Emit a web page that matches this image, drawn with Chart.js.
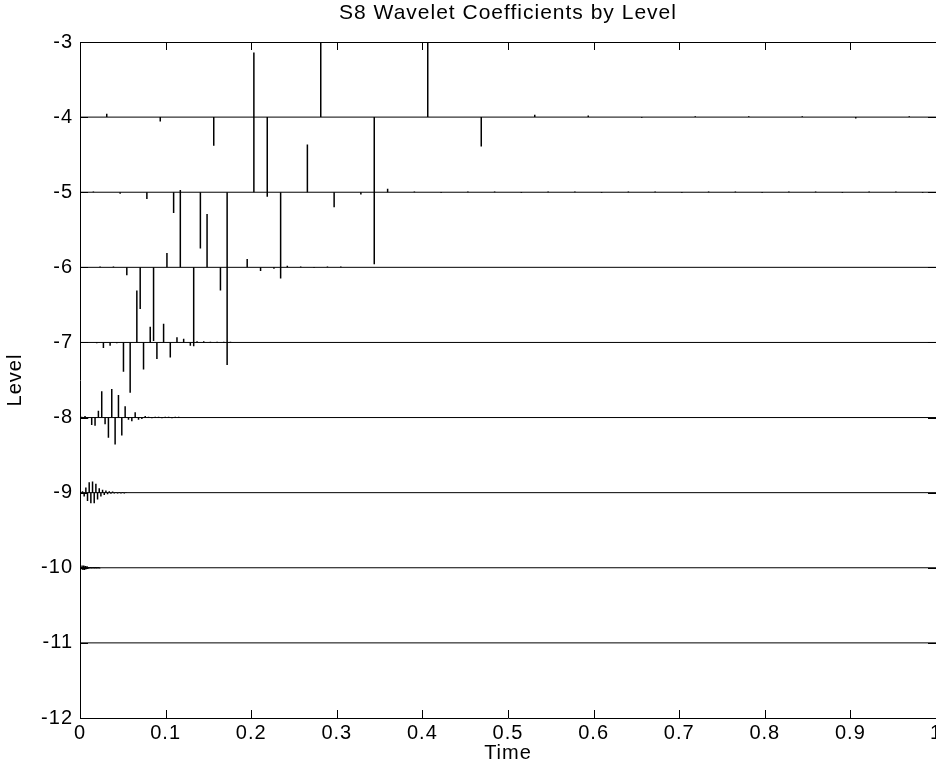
<!DOCTYPE html>
<html lang="en">
<head>
  <meta charset="UTF-8" />
  <title>S8 Wavelet Coefficients by Level</title>
  <script src="https://cdn.jsdelivr.net/npm/chart.js"></script>
  <style>
    html, body {
      margin: 0;
      padding: 0;
      background: #fff;
      overflow: hidden;
    }
    /* a bit wider than the window so the right edge and the "1" get cut, like the original */
    .chart-box {
      width: 960px;
      height: 775px;
    }
  </style>
</head>
<body>

  <div class="chart-box">
    <canvas id="waveChart"></canvas>
  </div>

  <script>
    // levels drawn, baseline of level j sits at y = -j
    const levels = [4, 5, 6, 7, 8, 9, 10, 11];
    const yTicks = [-3, -4, -5, -6, -7, -8, -9, -10, -11, -12];
    const xTicks = [0, 0.1, 0.2, 0.3, 0.4, 0.5, 0.6, 0.7, 0.8, 0.9, 1];

    // scaled coefficients, k-th value sits at t = (k - 0.5) / 2^j
    // (values not listed are ~0 and not drawn)
    const coef4 = [0.045, -0.06, -0.38, -1.06, 1.3, -1.96, 1.3, -0.39,
                   0.03, 0.02, -0.01, 0.01, 0.01, 0.01, -0.02, 0.01];
    const coef5 = [0.01, -0.02, -0.09, -0.275, -0.75, -2.3, 1.86, -1.15,
                   0.635, -0.2, -0.03, 0.045, 0.01, -0.01, 0.01, 0.01,
                   -0.01, 0.01, 0.01, -0.01, 0.01, 0.01, -0.01, 0.01,
                   0.01, -0.01, 0.01, 0.01, -0.01, 0.01, 0.01, -0.01];
    const coef6 = [0.0, 0.01, 0.01, -0.107, -0.555, -0.98, 0.19, 1.03,
                   -1.05, 0.71, -0.31, 0.0, 0.11, -0.05, -0.02, 0.02,
                   0.01, -0.01, 0.01, 0.01];
    const coef7 = [0.005, 0.0, -0.01, -0.075, -0.045, -0.01, -0.39, -0.67,
                   0.69, -0.36, 0.21, -0.22, 0.25, -0.2, 0.07, 0.05,
                   -0.045, 0.015, 0.015, 0.01, 0.01, 0.01, 0.01];
    const coef8 = [0.01, 0.02, -0.01, -0.1, -0.11, 0.09, 0.35, -0.09,
                   -0.27, 0.38, -0.36, 0.3, -0.24, 0.15, -0.03, -0.05,
                   0.07, -0.03, -0.02, 0.02, 0.01, -0.01, 0.01, 0.01,
                   -0.01, 0.01, 0.01, -0.01, 0.01, 0.01];
    const coef9 = [-0.01, 0.02, -0.05, 0.07, -0.11, 0.14, -0.14, 0.15,
                   -0.14, 0.12, -0.09, 0.06, -0.05, 0.04, -0.03, 0.03,
                   -0.02, 0.02, -0.015, 0.015, -0.01, 0.01, -0.01, 0.01,
                   -0.01, 0.01, -0.01, 0.005];
    const coef10 = [0.01, -0.02, 0.03, -0.03, 0.03, -0.03, 0.025, -0.02,
                    0.02, -0.015, 0.01, -0.01, 0.01, -0.01, 0.01, -0.01,
                    0.01, -0.01, 0.01, -0.01, 0.01, -0.01, 0.01, -0.01];
    const coef11 = [];

    const coefByLevel = { 4: coef4, 5: coef5, 6: coef6, 7: coef7, 8: coef8, 9: coef9, 10: coef10, 11: coef11 };

    const FONT = "'Liberation Sans', Arial, Helvetica, sans-serif";
    Chart.defaults.color = '#000';
    Chart.defaults.font.family = FONT;

    // baselines: one flat line per level, broken between levels
    const baseData = [];
    levels.forEach(j => {
      baseData.push({ x: xTicks[0], y: -j }, { x: xTicks[xTicks.length - 1], y: -j }, { x: 1, y: null });
    });

    // stems: each coefficient is a vertical segment from the baseline
    const stemSets = levels.map(j => {
      const data = [];
      coefByLevel[j].forEach((v, i) => {
        const t = (i + 0.5) / Math.pow(2, j);
        data.push({ x: t, y: -j }, { x: t, y: -j + v }, { x: t, y: null });
      });
      return {
        label: 'Level -' + j,
        data: data,
        borderColor: '#000',
        borderWidth: 1.5,
        pointRadius: 0,
        spanGaps: false
      };
    });

    // box round the plot with inward tick marks
    const framePlugin = {
      id: 'frame',
      beforeDraw(chart) {
        // the original text is drawn a little wide
        chart.ctx.letterSpacing = '1px';
      },
      afterDatasetsDraw(chart) {
        const { ctx, chartArea: a, scales } = chart;
        const len = 8;
        ctx.save();
        ctx.strokeStyle = '#000';
        ctx.lineWidth = 1;
        ctx.beginPath();
        ctx.rect(Math.round(a.left) + 0.5, Math.round(a.top) + 0.5,
                 Math.round(a.right - a.left), Math.round(a.bottom - a.top));
        xTicks.forEach(v => {
          const px = Math.round(scales.x.getPixelForValue(v)) + 0.5;
          ctx.moveTo(px, a.top);
          ctx.lineTo(px, a.top + len);
          ctx.moveTo(px, a.bottom);
          ctx.lineTo(px, a.bottom - len);
        });
        yTicks.forEach(v => {
          const py = Math.round(scales.y.getPixelForValue(v)) + 0.5;
          ctx.moveTo(a.left, py);
          ctx.lineTo(a.left + len, py);
          ctx.moveTo(a.right, py);
          ctx.lineTo(a.right - len, py);
        });
        ctx.stroke();
        ctx.restore();
      }
    };

    const ctx = document.getElementById('waveChart').getContext('2d');
    new Chart(ctx, {
      type: 'line',
      data: {
        datasets: [{
          label: 'baselines',
          data: baseData,
          borderColor: '#000',
          borderWidth: 1,
          pointRadius: 0,
          spanGaps: false
        }].concat(stemSets)
      },
      options: {
        responsive: true,
        maintainAspectRatio: false,
        animation: false,
        events: [],
        layout: { padding: { left: 0, right: 24, top: 0, bottom: 0 } },
        scales: {
          x: {
            type: 'linear',
            min: 0,
            max: 1,
            afterFit: s => { s.height = 57; },
            afterBuildTicks: s => { s.ticks = xTicks.map(v => ({ value: v })); },
            ticks: {
              font: { size: 20 },
              padding: 3,
              maxRotation: 0,
              autoSkip: false,
              callback: v => String(v)
            },
            grid: { display: false, drawTicks: false },
            border: { display: false },
            title: { display: true, text: 'Time', font: { size: 20 }, padding: { top: 0, bottom: 10 } }
          },
          y: {
            type: 'linear',
            min: -12,
            max: -3,
            afterFit: s => { s.width = 80; },
            afterBuildTicks: s => { s.ticks = yTicks.map(v => ({ value: v })); },
            ticks: { font: { size: 20 }, padding: 7, callback: v => String(v) },
            grid: { display: false, drawTicks: false },
            border: { display: false },
            title: { display: true, text: 'Level', font: { size: 20 }, padding: { top: 3, bottom: 0 } }
          }
        },
        plugins: {
          legend: { display: false },
          tooltip: { enabled: false },
          title: {
            display: true,
            fullSize: false,
            text: 'S8 Wavelet Coefficients by Level',
            font: { size: 21, weight: 'normal' },
            color: '#000',
            padding: { top: 0.6, bottom: 16.2 }
          }
        }
      },
      plugins: [framePlugin]
    });
  </script>

</body>
</html>
